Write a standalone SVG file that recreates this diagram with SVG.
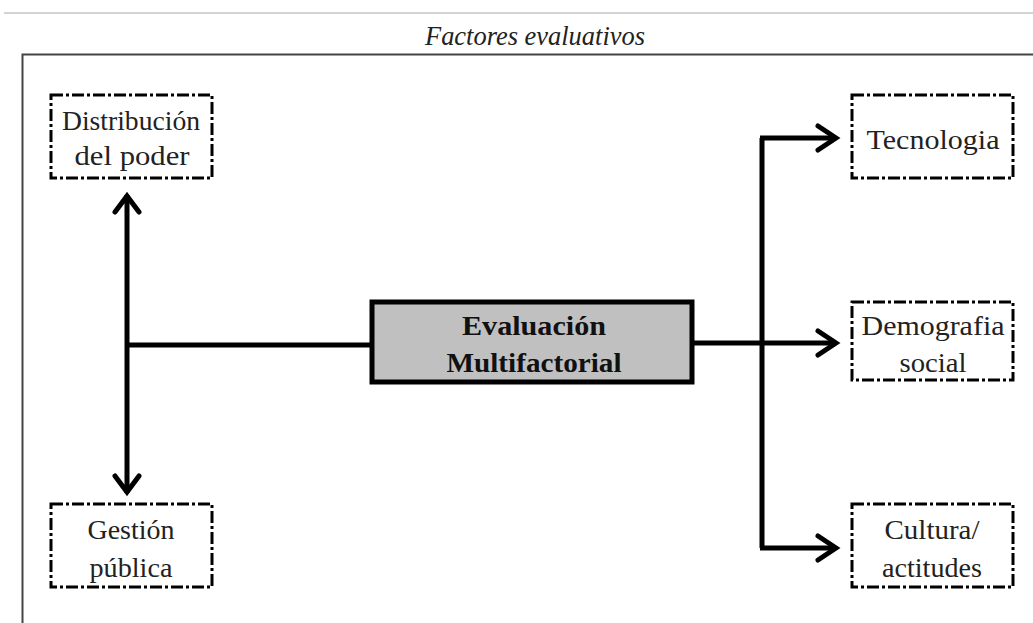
<svg xmlns="http://www.w3.org/2000/svg" width="1033" height="623" viewBox="0 0 1033 623">
<style>
.t{font-family:"Liberation Serif","Times New Roman",serif;font-size:27px;fill:#222;text-anchor:middle}
.b{font-weight:bold;fill:#111;font-size:28px}
.dash{fill:#fff;stroke:#000;stroke-width:3;stroke-dasharray:12 3 3 3}
.ln{fill:none;stroke:#000;stroke-width:5;stroke-linecap:butt;stroke-linejoin:miter}
.hd{fill:none;stroke:#000;stroke-width:5;stroke-linecap:round;stroke-linejoin:miter}
</style>
<rect width="1033" height="623" fill="#fff"/>
<line x1="4" y1="13" x2="1033" y2="13" stroke="#d4d4d4" stroke-width="2"/>
<text x="535" y="45" class="t" style="font-style:italic" textLength="220" lengthAdjust="spacingAndGlyphs">Factores evaluativos</text>
<path d="M22.5 623 V54.5 H1033" fill="none" stroke="#444" stroke-width="2"/>
<g id="connectors">
<path class="ln" d="M127 195 V493"/>
<path class="ln" d="M127 345 H372"/>
<polyline class="hd" points="115,212 127,196 139,212"/>
<polyline class="hd" points="115,476 127,492 139,476"/>
<path class="ln" d="M692 343 H836"/>
<path class="ln" d="M762 138 V548"/>
<path class="ln" d="M760 138 H836"/>
<path class="ln" d="M760 548 H836"/>
<polyline class="hd" points="818,126 836,138 818,150"/>
<polyline class="hd" points="818,331 836,343 818,355"/>
<polyline class="hd" points="818,536 836,548 818,560"/>
</g>
<g id="n-distribucion">
<rect class="dash" x="51" y="95" width="161" height="83"/>
<text class="t" x="131" y="130" textLength="138" lengthAdjust="spacingAndGlyphs">Distribución</text>
<text class="t" x="132" y="165" textLength="115" lengthAdjust="spacingAndGlyphs">del poder</text>
</g>
<g id="n-gestion">
<rect class="dash" x="51" y="504" width="161" height="83"/>
<text class="t" x="131" y="539" textLength="87" lengthAdjust="spacingAndGlyphs">Gestión</text>
<text class="t" x="131" y="577" textLength="83" lengthAdjust="spacingAndGlyphs">pública</text>
</g>
<g id="n-evaluacion">
<rect x="372" y="302" width="320" height="80" fill="#c0c0c0" stroke="#000" stroke-width="5"/>
<text class="t b" x="534" y="335" textLength="144" lengthAdjust="spacingAndGlyphs">Evaluación</text>
<text class="t b" x="534" y="372" textLength="175" lengthAdjust="spacingAndGlyphs">Multifactorial</text>
</g>
<g id="n-tecnologia">
<rect class="dash" x="852" y="95" width="161" height="83"/>
<text class="t" x="933" y="149" textLength="133" lengthAdjust="spacingAndGlyphs">Tecnologia</text>
</g>
<g id="n-demografia">
<rect class="dash" x="852" y="302" width="161" height="78"/>
<text class="t" x="933" y="335" textLength="143" lengthAdjust="spacingAndGlyphs">Demografia</text>
<text class="t" x="933" y="372" textLength="67" lengthAdjust="spacingAndGlyphs">social</text>
</g>
<g id="n-cultura">
<rect class="dash" x="852" y="504" width="161" height="83"/>
<text class="t" x="932" y="539" textLength="95" lengthAdjust="spacingAndGlyphs">Cultura/</text>
<text class="t" x="932" y="577" textLength="100" lengthAdjust="spacingAndGlyphs">actitudes</text>
</g>
</svg>
